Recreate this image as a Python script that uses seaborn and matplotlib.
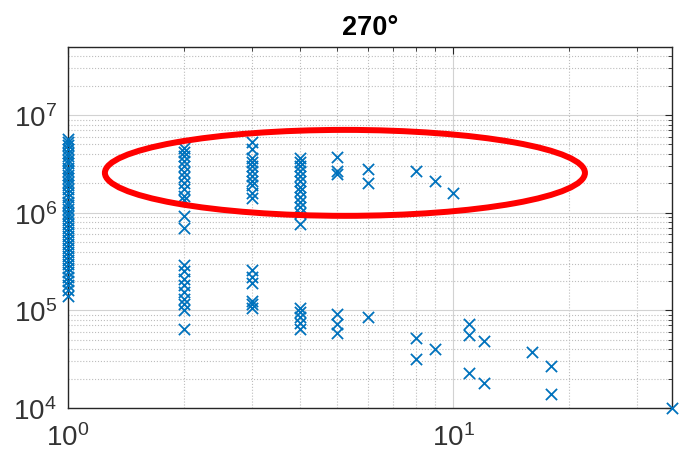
import numpy as np
import pandas as pd
import matplotlib
matplotlib.use("Agg")
import matplotlib.pyplot as plt
import seaborn as sns
from matplotlib.patches import Ellipse
from matplotlib.ticker import LogLocator, NullFormatter, LogFormatterMathtext

# ---- data ----
x1 = [5.7e6, 5.3e6, 4.9e6, 4.5e6, 4.1e6, 3.8e6, 3.5e6, 3.2e6, 2.9e6, 2.7e6,
      2.45e6, 2.25e6, 2.05e6, 1.9e6, 1.75e6, 1.6e6, 1.45e6, 1.3e6, 1.2e6, 1.1e6,
      1.0e6, 9.2e5, 8.4e5, 7.7e5, 7.0e5, 6.4e5, 5.8e5, 5.3e5, 4.8e5, 4.4e5,
      4.0e5, 3.6e5, 3.3e5, 3.0e5, 2.7e5, 2.45e5, 2.2e5, 2.0e5, 1.8e5, 1.6e5, 1.4e5]
x2 = [4.6e6, 4.2e6, 3.8e6, 3.4e6, 3.0e6, 2.6e6, 2.3e6, 2.0e6, 1.75e6, 1.5e6, 1.35e6,
      9.2e5, 7.0e5,
      2.9e5, 2.5e5, 2.1e5, 1.8e5, 1.55e5, 1.3e5, 1.15e5, 1.0e5, 6.5e4]
x3 = [5.3e6, 4.5e6, 3.6e6, 3.3e6, 3.0e6, 2.7e6, 2.4e6, 2.1e6, 1.9e6, 1.6e6, 1.4e6,
      2.6e5, 2.2e5, 1.9e5, 1.25e5, 1.15e5, 1.05e5]
x4 = [3.6e6, 3.3e6, 3.0e6, 2.7e6, 2.4e6, 2.1e6, 1.85e6, 1.65e6, 1.45e6, 1.3e6,
      1.15e6, 1.0e6, 7.6e5,
      1.05e5, 9.5e4, 8.5e4, 7.5e4, 6.5e4]
x5 = [3.7e6, 2.7e6, 2.5e6, 9.2e4, 7.2e4, 5.8e4]
x6 = [2.8e6, 2.0e6, 8.6e4]
x8 = [2.7e6, 5.2e4, 3.2e4]
x9 = [2.1e6, 4.0e4]
x10 = [1.6e6]
x11 = [7.2e4, 5.6e4, 2.3e4]
x12 = [4.8e4, 1.8e4]
x16 = [3.7e4]
x18 = [2.7e4, 1.4e4]
x37 = [1.0e4]

columns = {1: x1, 2: x2, 3: x3, 4: x4, 5: x5, 6: x6, 8: x8, 9: x9, 10: x10,
           11: x11, 12: x12, 16: x16, 18: x18, 37: x37}
title = "270°"

rows = [(k, v) for k, vals in columns.items() for v in vals]
df = pd.DataFrame(rows, columns=["x", "y"])

sns.set_theme(style="white")
plt.rcParams['font.family'] = ['Liberation Sans', 'DejaVu Sans']
plt.rcParams['mathtext.fontset'] = 'custom'
plt.rcParams['mathtext.rm'] = 'Liberation Sans'
plt.rcParams['mathtext.it'] = 'Liberation Sans'

fig = plt.figure(figsize=(6.8, 4.6), dpi=100)
ax = fig.add_axes([0.1, 0.111, 0.888, 0.785])

ax.set_xscale("log")
ax.set_yscale("log")
ax.set_xlim(1, 37)
ax.set_ylim(1e4, 5e7)

blue = (0.0, 0.447, 0.741)
sns.scatterplot(data=df, x="x", y="y", ax=ax, marker="x", color=blue,
                s=65, linewidth=1.3, clip_on=False, zorder=5, legend=False)

ax.xaxis.set_major_locator(LogLocator(base=10))
ax.yaxis.set_major_locator(LogLocator(base=10))
ax.xaxis.set_minor_locator(LogLocator(base=10, subs=np.arange(2, 10)))
ax.yaxis.set_minor_locator(LogLocator(base=10, subs=np.arange(2, 10)))
ax.xaxis.set_major_formatter(LogFormatterMathtext())
ax.yaxis.set_major_formatter(LogFormatterMathtext())
ax.xaxis.set_minor_formatter(NullFormatter())
ax.yaxis.set_minor_formatter(NullFormatter())

ax.grid(True, which="major", color="#d2d2d2", linestyle="-", linewidth=0.8)
ax.grid(True, which="minor", color="#bdbdbd", linestyle=":", linewidth=0.8)

ax.tick_params(which="both", direction="in", top=True, right=True,
               color="#262626")
ax.tick_params(which="major", length=5, width=0.8, labelsize=20,
               labelcolor="#333333", pad=8)
ax.tick_params(which="minor", length=3, width=0.6)
ax.tick_params(axis="x", which="major", pad=11)
for sp in ax.spines.values():
    sp.set_color("#262626")
    sp.set_linewidth(1.0)

ax.set_xlabel("")
ax.set_ylabel("")
ax.set_title(title, fontsize=19.5, fontweight="bold", color="#000000", pad=9)

ell = Ellipse((0.4586, 0.651), 0.795, 0.238, transform=ax.transAxes,
              fill=False, edgecolor="#ff0000", linewidth=4.3, zorder=10,
              clip_on=False)
ax.add_patch(ell)

fig.savefig("out.png", dpi=100)
